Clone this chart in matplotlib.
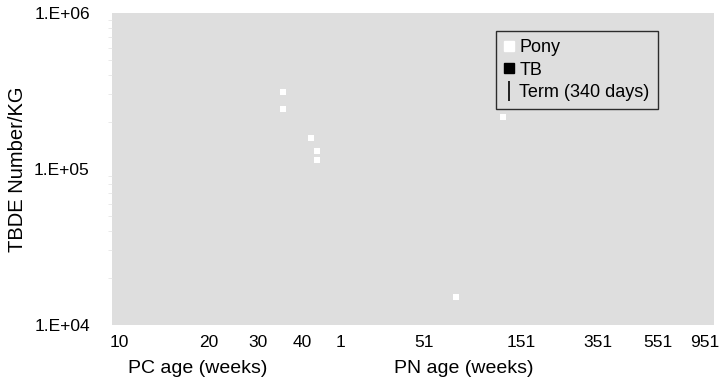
"""TBDE number per kg vs post-conceptual / post-natal age (log-log)."""

import matplotlib
matplotlib.use("Agg")
import matplotlib.pyplot as plt
from matplotlib.lines import Line2D

plt.rcParams["font.family"] = ["Liberation Sans", "DejaVu Sans"]

# Pony samples: age expressed on the PC-weeks axis (PN weeks shifted by ~49)
pony_age = [36.9, 36.9, 45.7, 48.1, 48.0, 200.0, 139.0]
pony_tbde = [3.1e5, 2.42e5, 1.58e5, 1.31e5, 1.14e5, 2.15e5, 1.52e4]

# TB: no points visible in the reference
tb_age = []
tb_tbde = []

# where the (hand placed) age labels sit on the log axis
x_tick_vals = [10.6, 21.0, 30.6, 42.8, 57.6, 109, 229, 413, 651, 935]
x_tick_labels = ["10", "20", "30", "40", "1", "51", "151", "351", "551", "951"]
y_tick_vals = [1e4, 1e5, 1e6]
y_tick_labels = ["1.E+04", "1.E+05", "1.E+06"]

fig = plt.figure(figsize=(7.25, 3.91), dpi=100)
ax = fig.add_axes([0.1545, 0.169, 0.83, 0.798])
ax.set_facecolor("#dedede")

ax.scatter(pony_age, pony_tbde, marker="s", s=22, color="white", linewidths=0, zorder=3)
ax.scatter(tb_age, tb_tbde, marker="s", s=22, color="black", linewidths=0, zorder=3)

ax.set_xscale("log")
ax.set_yscale("log")
ax.set_xlim(10, 1000)
ax.set_ylim(1e4, 1e6)

ax.set_xticks(x_tick_vals)
ax.set_xticklabels(x_tick_labels, fontsize=12.5)
ax.xaxis.set_minor_locator(matplotlib.ticker.NullLocator())
ax.set_yticks(y_tick_vals)
ax.set_yticklabels(y_tick_labels, fontsize=12.5)
ax.tick_params(axis="x", length=0, pad=7)
ax.tick_params(axis="y", which="major", length=0, pad=16)
ax.tick_params(axis="y", which="minor", length=3, color="#e6e6e6", labelleft=False)
for sp in ax.spines.values():
    sp.set_visible(False)

ax.set_ylabel("TBDE Number/KG", fontsize=14.5, labelpad=5)
fig.text(0.273, 0.058, "PC age (weeks)", fontsize=14, ha="center", va="center")
fig.text(0.64, 0.058, "PN age (weeks)", fontsize=14, ha="center", va="center")

handles = [
    Line2D([], [], marker="s", color="white", linestyle="none", markersize=6.5),
    Line2D([], [], marker="s", color="black", linestyle="none", markersize=6.5),
    Line2D([], [], marker="|", color="black", linestyle="none", markersize=14,
           markeredgewidth=1.2),
]
leg = ax.legend(handles, ["Pony", "TB", "Term (340 days)"], loc="upper left",
                bbox_to_anchor=(0.638, 0.942), fontsize=13, frameon=True,
                fancybox=False, edgecolor="black", facecolor="#dedede",
                handlelength=0.6, handletextpad=0.25, labelspacing=0.3,
                borderpad=0.45, borderaxespad=0)
leg.get_frame().set_linewidth(1.0)

fig.savefig("out.png", dpi=100)
